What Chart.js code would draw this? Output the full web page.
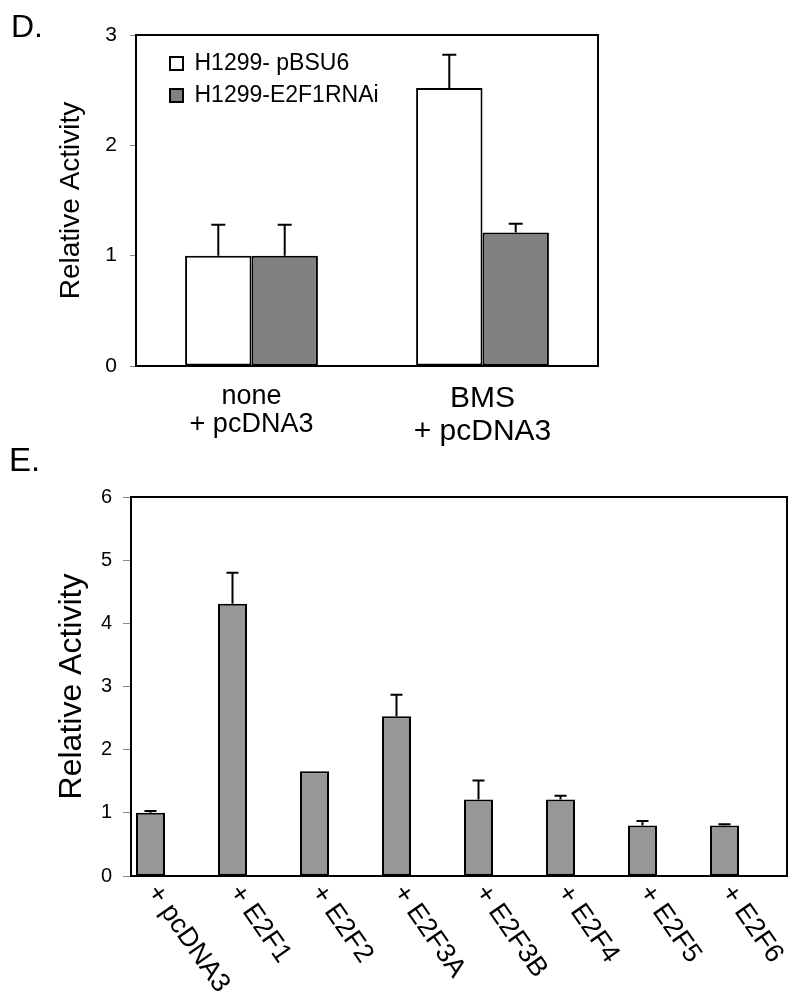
<!DOCTYPE html>
<html>
<head>
<meta charset="utf-8">
<script src="https://cdn.jsdelivr.net/npm/chart.js@4/dist/chart.umd.min.js"></script>
<style>
  html, body { margin: 0; padding: 0; background: #fff; }
  #wrap { position: relative; width: 800px; height: 1004px; overflow: hidden; background: #fff; }
  canvas { position: absolute; left: 0; }
  .panel { position: absolute; font-family: "Liberation Sans", Arial, sans-serif; line-height: 1; color: #000; }
</style>
</head>
<body>
<div id="wrap">
  <canvas id="chartD" width="800" height="450" style="top:0px;width:800px;height:450px"></canvas>
  <canvas id="chartE" width="800" height="564" style="top:440px;width:800px;height:564px"></canvas>
  <div class="panel" style="left:11px;top:10px;font-size:32px;">D.</div>
  <div class="panel" style="left:9px;top:443px;font-size:33px;">E.</div>
</div>
<script>
// ---------- data: panel D ----------
const dCategories = [['none', '+ pcDNA3'], ['BMS', '+ pcDNA3']];
const dSeriesNames = ['H1299- pBSU6', 'H1299-E2F1RNAi'];
const dControl = [1.0, 2.52];
const dControlErr = [0.28, 0.30];
const dRNAi = [1.0, 1.21];
const dRNAiErr = [0.28, 0.08];
const dYMax = 3;
const dYStep = 1;

// ---------- data: panel E ----------
const eCategories = ['+ pcDNA3', '+ E2F1', '+ E2F2', '+ E2F3A', '+ E2F3B', '+ E2F4', '+ E2F5', '+ E2F6'];
const eValues = [1.0, 4.31, 1.66, 2.53, 1.21, 1.21, 0.80, 0.80];
const eErr = [0.03, 0.49, 0, 0.34, 0.30, 0.06, 0.07, 0.02];
const eEmpty = [null, null, null, null, null, null, null, null]; // empty 2nd series slot (Excel layout)
const eYMax = 6;
const eYStep = 1;

const FONT = '"Liberation Sans", Arial, sans-serif';
Chart.defaults.font.family = FONT;
Chart.defaults.color = '#000';

// ---------- plugins ----------
const framePlugin = {
  id: 'frame',
  beforeDatasetsDraw(chart, args, opts) {
    const {ctx, chartArea: a} = chart;
    ctx.save();
    ctx.strokeStyle = '#000';
    ctx.lineWidth = opts.width || 2;
    ctx.strokeRect(a.left, a.top, a.right - a.left, a.bottom - a.top);
    ctx.restore();
  }
};

const errorBarPlugin = {
  id: 'errorBars',
  afterDatasetsDraw(chart, args, opts) {
    const {ctx} = chart;
    const y = chart.scales.y;
    ctx.save();
    ctx.strokeStyle = '#000';
    ctx.lineWidth = opts.lineWidth || 2;
    (opts.errors || []).forEach((errs, di) => {
      if (!errs) return;
      const meta = chart.getDatasetMeta(di);
      meta.data.forEach((bar, i) => {
        const e = errs[i];
        const v = chart.data.datasets[di].data[i];
        if (!e || v == null) return;
        const yTop = y.getPixelForValue(v + e);
        ctx.beginPath();
        ctx.moveTo(bar.x, bar.y);
        ctx.lineTo(bar.x, yTop);
        ctx.moveTo(bar.x - opts.cap, yTop);
        ctx.lineTo(bar.x + opts.cap, yTop);
        ctx.stroke();
      });
    });
    ctx.restore();
  }
};

const legendPlace = {
  id: 'legendPlace',
  afterLayout(chart, args, opts) {
    const lg = chart.legend;
    if (!lg) return;
    const a = chart.chartArea;
    const w = lg.width, h = lg.height;
    lg.left = a.left + opts.dx;
    lg.top = a.top + opts.dy;
    lg.right = lg.left + w;
    lg.bottom = lg.top + h;
  }
};

const slantLabels = {
  id: 'slantLabels',
  afterDraw(chart, args, opts) {
    const {ctx} = chart;
    const meta = chart.getDatasetMeta(0);
    const base = chart.chartArea.bottom;
    ctx.save();
    ctx.fillStyle = '#000';
    ctx.font = opts.font;
    ctx.textAlign = 'left';
    ctx.textBaseline = 'middle';
    chart.data.labels.forEach((lab, i) => {
      const bar = meta.data[i];
      ctx.save();
      ctx.translate(bar.x + opts.dx, base + opts.dy);
      ctx.rotate(opts.angle * Math.PI / 180);
      ctx.fillText(lab, 0, 0);
      ctx.restore();
    });
    ctx.restore();
  }
};

// ---------- chart D ----------
new Chart(document.getElementById('chartD'), {
  type: 'bar',
  data: {
    labels: dCategories,
    datasets: [
      { label: dSeriesNames[0], data: dControl, backgroundColor: '#ffffff', borderColor: '#000', borderWidth: 2, borderSkipped: false },
      { label: dSeriesNames[1], data: dRNAi, backgroundColor: '#808080', borderColor: '#000', borderWidth: 2, borderSkipped: false }
    ]
  },
  options: {
    responsive: false,
    animation: false,
    devicePixelRatio: 1,
    categoryPercentage: 0.575,
    barPercentage: 1.0,
    layout: { padding: { left: 0, top: 35, right: 202, bottom: 0 } },
    scales: {
      x: {
        grid: { display: false },
        border: { display: false },
        ticks: {
          padding: 8,
          maxRotation: 0,
          minRotation: 0,
          color: '#000',
          font: (ctx) => ctx.index === 1 ? { size: 30, lineHeight: 1.1 } : { size: 27, lineHeight: 1.05 }
        },
        afterFit: (s) => { s.height = 84; }
      },
      y: {
        min: 0, max: dYMax,
        grid: { drawOnChartArea: false, drawTicks: true, tickLength: 6, color: '#888', lineWidth: 1 },
        border: { display: false },
        ticks: { stepSize: dYStep, padding: 13, font: { size: 21 }, color: '#000' },
        title: { display: true, text: 'Relative Activity', font: { size: 28 }, color: '#000', padding: { top: 54, bottom: 0 } },
        afterFit: (s) => { s.width = 136; }
      }
    },
    plugins: {
      legend: {
        display: true,
        position: 'chartArea',
        align: 'start',
        labels: { boxWidth: 13, boxHeight: 13, padding: 9, font: { size: 23 }, color: '#000' }
      },
      tooltip: { enabled: false },
      legendPlace: { dx: 25, dy: 8 },
      frame: { width: 2 },
      errorBars: { errors: [dControlErr, dRNAiErr], cap: 7, lineWidth: 2 }
    }
  },
  plugins: [framePlugin, errorBarPlugin, legendPlace]
});

// ---------- chart E ----------
new Chart(document.getElementById('chartE'), {
  type: 'bar',
  data: {
    labels: eCategories,
    datasets: [
      { label: 'E', data: eValues, backgroundColor: '#979797', borderColor: '#000', borderWidth: 2, borderSkipped: false },
      { label: '', data: eEmpty, backgroundColor: '#979797' }
    ]
  },
  options: {
    responsive: false,
    animation: false,
    devicePixelRatio: 1,
    categoryPercentage: 86 / 82,
    barPercentage: 29 / 43,
    layout: { padding: { left: 0, top: 57, right: 13, bottom: 0 } },
    scales: {
      x: {
        grid: { display: false },
        border: { display: false },
        ticks: { display: false },
        afterFit: (s) => { s.height = 128; }
      },
      y: {
        min: 0, max: eYMax,
        grid: { drawOnChartArea: false, drawTicks: true, tickLength: 8, color: '#888', lineWidth: 1 },
        border: { display: false },
        ticks: { stepSize: eYStep, padding: 11, font: { size: 20 }, color: '#000' },
        title: { display: true, text: 'Relative Activity', font: { size: 32 }, color: '#000', padding: { top: 52.8, bottom: 0 } },
        afterFit: (s) => { s.width = 131; }
      }
    },
    plugins: {
      legend: { display: false },
      tooltip: { enabled: false },
      frame: { width: 2 },
      errorBars: { errors: [eErr, null], cap: 6, lineWidth: 2 },
      slantLabels: { font: '27px ' + FONT, dx: 2, dy: 12, angle: 55 }
    }
  },
  plugins: [framePlugin, errorBarPlugin, slantLabels]
});
</script>
</body>
</html>
